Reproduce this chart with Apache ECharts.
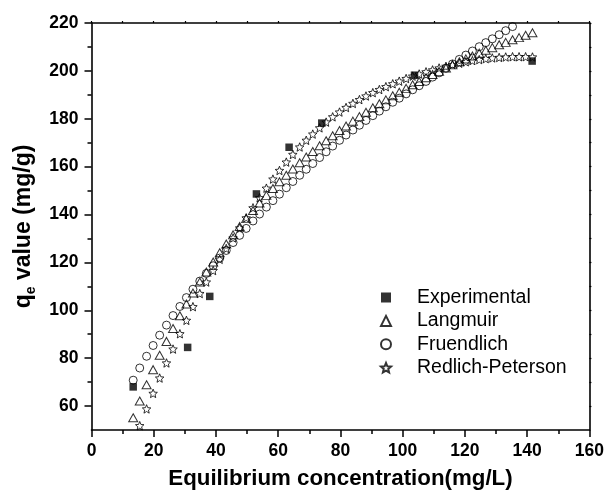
<!DOCTYPE html>
<html>
<head>
<meta charset="utf-8">
<script src="https://cdn.jsdelivr.net/npm/echarts@6/dist/echarts.min.js"></script>
<style>html,body{margin:0;padding:0;background:#fff;}#c{width:607px;height:497px;}</style>
</head>
<body>
<div id="c"></div>
<script>
// ---- data ----
var ceExp = [13.4, 30.9, 38.0, 53.0, 63.5, 74.0, 103.8, 141.6];
var qeExp = [68.0, 84.5, 105.8, 148.6, 168.1, 178.2, 198.2, 204.1];

var ceModel = [13.4,15.5,17.7,19.8,21.9,24.1,26.2,28.4,30.5,32.6,34.8,36.9,39.1,41.2,43.3,45.5,47.6,49.7,51.9,54.0,
  56.2,58.3,60.4,62.6,64.7,66.9,69.0,71.1,73.3,75.4,77.5,79.7,81.8,84.0,86.1,88.2,90.4,92.5,94.6,96.8,
  98.9,101.1,103.2,105.3,107.5,109.6,111.7,113.9,116.0,118.2,120.3,122.4,124.6,126.7,128.8,131.0,133.1,135.3,137.4,139.5,141.7];

var qeLangmuir = [55.1,62.1,68.9,75.2,81.2,87.0,92.4,97.7,102.6,107.2,111.8,116.0,120.2,124.0,127.7,131.5,135.0,138.3,141.7,144.8,
  148.0,150.9,153.7,156.4,159.0,161.6,164.0,166.3,168.7,170.8,172.9,175.1,177.0,179.0,180.9,182.7,184.6,186.3,187.9,189.6,
  191.1,192.7,194.2,195.6,197.1,198.5,199.8,201.2,202.5,203.8,205.0,206.2,207.4,208.6,209.7,210.9,211.9,213.0,213.9,214.9,215.9];

var qeFreundlich = [70.8,75.9,80.8,85.3,89.6,93.8,97.8,101.6,105.3,108.8,112.2,115.4,118.6,121.8,125.0,128.3,131.3,134.2,137.3,140.2,
  143.1,145.8,148.5,151.2,153.8,156.4,158.9,161.3,163.8,166.2,168.6,171.0,173.2,175.3,177.3,179.3,181.3,183.2,185.0,186.9,
  188.6,190.4,192.1,193.8,195.6,197.4,199.2,201.1,202.9,204.8,206.6,208.3,210.1,211.8,213.4,215.1,216.8,218.5,220.1,221.7,223.3];

var qeRedlich = [45.0,51.8,58.8,65.3,71.7,78.0,83.8,90.2,95.8,101.5,107.0,111.8,116.6,121.3,125.8,130.2,134.4,138.6,142.8,147.0,
  151.0,154.8,158.4,161.9,165.1,168.2,171.0,173.6,176.2,178.6,180.8,182.8,184.7,186.4,188.0,189.5,190.9,192.2,193.4,194.6,
  195.7,196.8,197.8,198.7,199.6,200.4,201.2,201.9,202.6,203.2,203.8,204.3,204.7,205.1,205.4,205.6,205.8,205.9,205.9,205.9,205.8];

var seriesNames = ['Experimental', 'Langmuir', 'Fruendlich', 'Redlich-Peterson'];
var yMajorTicks = [60, 80, 100, 120, 140, 160, 180, 200, 220];
var yMinorTicks = [70, 90, 110, 130, 150, 170, 190, 210];

function pairs(xs, ys) { return xs.map(function (x, i) { return [x, ys[i]]; }); }

var STAR = 'path://M50,0 L63.2,31.8 L97.6,34.5 L71.4,57 L79.4,90.5 L50,72.5 L20.6,90.5 L28.6,57 L2.4,34.5 L36.8,31.8 Z';
var FONT = '"Liberation Sans", Arial, Helvetica, sans-serif';
var hollow = { color: 'rgba(255,255,255,0)', borderColor: '#000', borderWidth: 1 };

var chart = echarts.init(document.getElementById('c'), null, { renderer: 'canvas' });
chart.setOption({
  animation: false,
  backgroundColor: '#fff',
  textStyle: { fontFamily: FONT },
  grid: { left: 91.5, right: 17, top: 23, bottom: 67, containLabel: false },
  legend: {
    orient: 'vertical', left: 380, top: 287.5, padding: 0, itemWidth: 10, itemHeight: 10, itemGap: 3.4,
    textStyle: { fontFamily: FONT, fontSize: 19.5, color: '#000', lineHeight: 20, padding: [0, 0, 0, 21] },
    data: seriesNames
  },
  xAxis: [{
    type: 'value', min: 0, max: 160, interval: 20, position: 'bottom',
    name: 'Equilibrium concentration(mg/L)', nameLocation: 'middle', nameGap: 38,
    nameTextStyle: { fontFamily: FONT, fontSize: 22.3, fontWeight: 'bold', color: '#000' },
    axisLine: { show: true, onZero: false, lineStyle: { color: '#000', width: 1.6 } },
    axisTick: { show: true, inside: false, length: 7, lineStyle: { color: '#000', width: 1.5 } },
    minorTick: { show: true, splitNumber: 2, length: 4, lineStyle: { color: '#000', width: 1.5 } },
    axisLabel: { fontFamily: FONT, fontSize: 17.5, fontWeight: 'bold', color: '#000', margin: 12 },
    splitLine: { show: false }
  }, {
    type: 'value', min: 0, max: 160, interval: 20, position: 'top',
    axisLine: { show: true, onZero: false, lineStyle: { color: '#000', width: 1.6 } },
    axisTick: { show: true, inside: false, length: 2, lineStyle: { color: '#000', width: 1.2 } },
    minorTick: { show: true, splitNumber: 2, length: 2, lineStyle: { color: '#000', width: 1.2 } },
    axisLabel: { show: false }, splitLine: { show: false }
  }],
  yAxis: [{
    type: 'value', min: 50, max: 220, position: 'left',
    name: '{q|q}{sub|e}{q| value (mg/g)}', nameLocation: 'middle', nameGap: 52, nameRotate: 90,
    nameTextStyle: {
      fontFamily: FONT, fontSize: 23, fontWeight: 'bold', color: '#000',
      rich: {
        q: { fontFamily: FONT, fontSize: 23, fontWeight: 'bold', color: '#000', lineHeight: 30 },
        sub: { fontFamily: FONT, fontSize: 14, fontWeight: 'bold', color: '#000', lineHeight: 30, padding: [15, 0, 0, 0] }
      }
    },
    axisLine: { show: true, onZero: false, lineStyle: { color: '#000', width: 1.6 } },
    axisTick: { show: true, inside: false, length: 7, customValues: yMajorTicks, lineStyle: { color: '#000', width: 1.5 } },
    axisLabel: { fontFamily: FONT, fontSize: 17.5, fontWeight: 'bold', color: '#000', margin: 13, customValues: yMajorTicks },
    splitLine: { show: false }
  }, {
    type: 'value', min: 50, max: 220, position: 'left', offset: 0,
    axisLine: { show: false },
    axisTick: { show: true, inside: false, length: 4, customValues: yMinorTicks, lineStyle: { color: '#000', width: 1.5 } },
    axisLabel: { show: false, customValues: yMinorTicks },
    splitLine: { show: false }
  }, {
    type: 'value', min: 50, max: 220, position: 'right',
    axisLine: { show: true, onZero: false, lineStyle: { color: '#000', width: 1.6 } },
    axisTick: { show: true, inside: false, length: 2, customValues: yMajorTicks.concat(yMinorTicks), lineStyle: { color: '#000', width: 1.2 } },
    axisLabel: { show: false, customValues: yMajorTicks },
    splitLine: { show: false }
  }],
  series: [{
    name: seriesNames[0], type: 'scatter', symbol: 'rect', symbolSize: 7.5, z: 5,
    itemStyle: { color: '#000', borderColor: '#000', borderWidth: 0 },
    data: pairs(ceExp, qeExp)
  }, {
    name: seriesNames[1], type: 'scatter', symbol: 'triangle', symbolSize: [9, 8],
    itemStyle: hollow, data: pairs(ceModel, qeLangmuir)
  }, {
    name: seriesNames[2], type: 'scatter', symbol: 'circle', symbolSize: 8,
    itemStyle: hollow, data: pairs(ceModel, qeFreundlich)
  }, {
    name: seriesNames[3], type: 'scatter', symbol: STAR, symbolSize: 8.5,
    itemStyle: hollow, data: pairs(ceModel, qeRedlich)
  }]
});
</script>
</body>
</html>
